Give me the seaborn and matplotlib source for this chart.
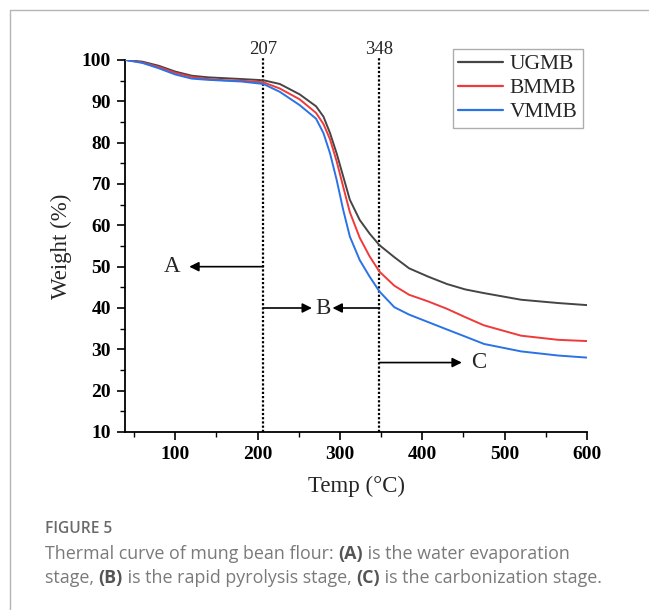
import matplotlib
matplotlib.use("Agg")
import matplotlib.pyplot as plt
from matplotlib.lines import Line2D
from matplotlib.ticker import MultipleLocator
import seaborn as sns
import pandas as pd

# values
temps = [40, 60, 80, 100, 120, 140, 160, 180, 207, 227, 251, 271, 280, 288,
         296, 304, 312, 324, 336, 348, 366, 384, 407, 430, 452, 475, 520, 565, 600]
ugmb = [100, 99.6, 98.6, 97.2, 96.2, 95.8, 95.6, 95.4, 95.1, 94.2, 91.7, 88.8, 86.3, 82.3,
        77.4, 71.8, 66.2, 61.3, 58.0, 55.2, 52.3, 49.6, 47.6, 45.8, 44.5, 43.6, 42.0, 41.2, 40.7]
bmmb = [100, 99.4, 98.3, 96.9, 95.9, 95.4, 95.1, 95.0, 94.6, 93.1, 90.5, 87.2, 84.5, 80.8,
        75.5, 69.3, 63.2, 57.0, 52.5, 48.8, 45.4, 43.2, 41.6, 39.8, 37.8, 35.8, 33.3, 32.3, 32.0]
vmmb = [100, 99.3, 98.0, 96.5, 95.5, 95.2, 95.0, 94.8, 94.2, 92.3, 89.1, 85.8, 82.3, 77.4,
        71.0, 63.7, 57.3, 51.6, 47.6, 44.0, 40.2, 38.4, 36.6, 34.8, 33.1, 31.3, 29.5, 28.5, 28.0]
samples = ["UGMB", "BMMB", "VMMB"]
colors = ["#454545", "#f03a3a", "#2a72e6"]
stage_lines = [207, 348]

df = pd.DataFrame({"Temp": temps, "UGMB": ugmb, "BMMB": bmmb, "VMMB": vmmb})
df_long = df.melt(id_vars="Temp", var_name="Sample", value_name="Weight")

sns.set_style("ticks")
plt.rcParams["font.family"] = ["Liberation Serif", "DejaVu Serif"]

W, H = 649, 610
fig = plt.figure(figsize=(W / 100, H / 100), dpi=100)
ax = fig.add_axes([125 / W, 1 - 432 / H, (587 - 125) / W, (432 - 60) / H])

sns.lineplot(data=df_long, x="Temp", y="Weight", hue="Sample", hue_order=samples,
             palette=colors, lw=1.4, ax=ax, zorder=3)

ax.set_xlim(39, 600)
ax.set_ylim(10, 100)
ax.xaxis.set_major_locator(MultipleLocator(100))
ax.xaxis.set_minor_locator(MultipleLocator(50))
ax.yaxis.set_major_locator(MultipleLocator(10))
ax.yaxis.set_minor_locator(MultipleLocator(5))
sns.despine(ax=ax)
for s in ["left", "bottom"]:
    ax.spines[s].set_linewidth(1.3)
    ax.spines[s].set_color("black")
ax.tick_params(which="major", direction="out", length=6, width=1.2, colors="black",
               labelsize=14, pad=4)
ax.tick_params(which="minor", direction="out", length=3.5, width=1.0, colors="black")
for lab in ax.get_xticklabels() + ax.get_yticklabels():
    lab.set_fontweight("bold")
ax.set_xlabel("Temp (°C)", fontsize=16.5, labelpad=9)
ax.set_ylabel("Weight (%)", fontsize=16.5, labelpad=7)

# stage boundaries
for t in stage_lines:
    ax.plot([t, t], [10, 100.5], ls=(0, (1, 0.9)), color="black", lw=1.6,
            clip_on=False, zorder=2)
    ax.text(t, 100.5, str(t), ha="center", va="bottom", fontsize=13.5)

arrow = dict(arrowstyle="-|>", color="black", lw=1.2, mutation_scale=14,
             shrinkA=0, shrinkB=0)
ax.annotate("", xy=(117, 50), xytext=(207, 50), arrowprops=arrow)
ax.text(96, 50, "A", ha="center", va="center", fontsize=16.5)
ax.annotate("", xy=(266, 40), xytext=(207, 40), arrowprops=arrow)
ax.text(279, 40, "B", ha="center", va="center", fontsize=16.5)
ax.annotate("", xy=(291, 40), xytext=(348, 40), arrowprops=arrow)
ax.annotate("", xy=(448, 26.8), xytext=(348, 26.8), arrowprops=arrow)
ax.text(468, 26.8, "C", ha="center", va="center", fontsize=16.5)

handles, labels = ax.get_legend_handles_labels()
if ax.get_legend() is not None:
    ax.get_legend().remove()
leg = fig.legend(handles, labels, loc="upper right",
                 bbox_to_anchor=(583 / W, 1 - 49 / H), bbox_transform=fig.transFigure,
                 borderaxespad=0, fontsize=15.5, frameon=True, fancybox=False,
                 handlelength=2.1, handletextpad=0.3, labelspacing=0.18,
                 borderpad=0.25)
leg.get_frame().set_edgecolor("#999999")
leg.get_frame().set_linewidth(1.0)
for h in leg.get_lines():
    h.set_linewidth(1.6)

# panel border
fig.add_artist(Line2D([9.5 / W, 9.5 / W, 1], [0, 1 - 9.5 / H, 1 - 9.5 / H],
                      transform=fig.transFigure, color="#b5b5b5", lw=1.0))

# caption
cap_font = ["Open Sans", "DejaVu Sans"]
fig.text(45 / W, 1 - 529 / H, "FIGURE 5", fontsize=11.2, color="#6a6a6a",
         family=cap_font, fontweight="semibold", va="center", ha="left")

renderer = fig.canvas.get_renderer()


def rich_line(y_px, parts):
    x = 45.0
    for txt, bold in parts:
        t = fig.text(x / W, 1 - y_px / H, txt, fontsize=12.9, family=cap_font,
                     color="#555555" if bold else "#7a7a7a",
                     fontweight="bold" if bold else "normal",
                     va="center", ha="left")
        bb = t.get_window_extent(renderer=renderer)
        x += bb.width


rich_line(554, [("Thermal curve of mung bean flour: ", False), ("(A)", True),
                (" is the water evaporation", False)])
rich_line(578, [("stage, ", False), ("(B)", True), (" is the rapid pyrolysis stage, ", False),
                ("(C)", True), (" is the carbonization stage.", False)])

fig.savefig("out.png", dpi=100)
plt.close(fig)
print("saved out.png")
